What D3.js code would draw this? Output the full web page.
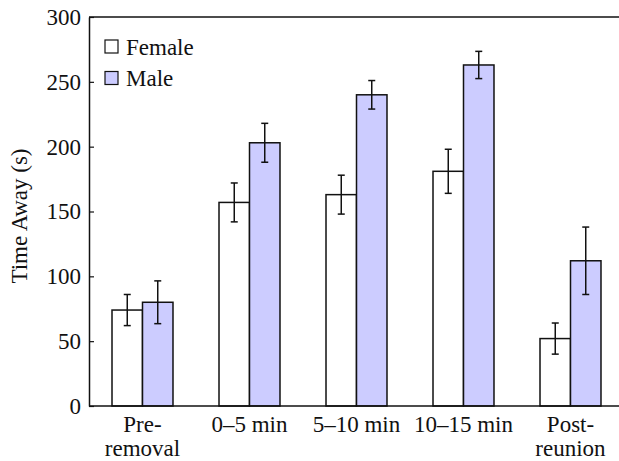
<!DOCTYPE html>
<html>
<head>
<meta charset="utf-8">
<script src="https://cdn.jsdelivr.net/npm/d3@7"></script>
<style>
  body { margin: 0; background: #fff; }
  text { font-family: "Liberation Serif", "Times New Roman", serif; fill: #111; }
</style>
</head>
<body>
<div id="chart"></div>
<script>
// chart data
const categories = ["Pre-\nremoval", "0–5 min", "5–10 min", "10–15 min", "Post-\nreunion"];
const series = ["Female", "Male"];
const femaleMean = [74, 157, 163, 181, 52];
const femaleErr = [12, 15, 15, 17, 12];
const maleMean = [80, 203, 240, 263, 112];
const maleErr = [16.5, 15, 11, 10.5, 26];
const yTicks = [0, 50, 100, 150, 200, 250, 300];

const width = 619;
const height = 461;
const plotLeft = 89;
const plotTop = 17;
const plotBottom = 406;
const fontSize = 23;
const colors = { Female: "#ffffff", Male: "#ccccff" };

const svg = d3.select("#chart").append("svg")
    .attr("width", width)
    .attr("height", height);

// scales
const xScale = d3.scaleBand()
    .domain(categories)
    .range([plotLeft, plotLeft + 5 * 107])
    .paddingInner(0.43)
    .paddingOuter(0.215);

const xInner = d3.scaleBand()
    .domain(series)
    .range([0, xScale.bandwidth()]);

const yScale = d3.scaleLinear()
    .domain([0, 300])
    .range([plotBottom, plotTop]);

// build rows for bars
let rows = [];
categories.forEach((c, i) => {
    rows.push({ cat: c, s: "Female", v: femaleMean[i], e: femaleErr[i] });
    rows.push({ cat: c, s: "Male", v: maleMean[i], e: maleErr[i] });
});

// bars
svg.append("g").selectAll("rect")
    .data(rows)
    .enter()
    .append("rect")
    .attr("x", d => xScale(d.cat) + xInner(d.s))
    .attr("y", d => yScale(d.v))
    .attr("width", xInner.bandwidth())
    .attr("height", d => yScale(0) - yScale(d.v))
    .attr("fill", d => colors[d.s])
    .attr("stroke", "#111")
    .attr("stroke-width", 1.5);

// error bars
const errG = svg.append("g").attr("stroke", "#111").attr("stroke-width", 1.5);
rows.forEach(d => {
    const cx = xScale(d.cat) + xInner(d.s) + xInner.bandwidth() / 2;
    errG.append("line")
        .attr("x1", cx).attr("x2", cx)
        .attr("y1", yScale(d.v + d.e)).attr("y2", yScale(d.v - d.e));
    [d.v + d.e, d.v - d.e].forEach(v => {
        errG.append("line")
            .attr("x1", cx - 3.5).attr("x2", cx + 3.5)
            .attr("y1", yScale(v)).attr("y2", yScale(v));
    });
});

// frame: top line, bottom axis
const frame = svg.append("g").attr("stroke", "#111").attr("stroke-width", 1.5);
frame.append("line").attr("x1", plotLeft).attr("x2", width).attr("y1", plotTop).attr("y2", plotTop);
frame.append("line").attr("x1", plotLeft).attr("x2", width).attr("y1", plotBottom).attr("y2", plotBottom);

// y axis
const yAxis = d3.axisLeft(yScale)
    .tickValues(yTicks)
    .tickSizeInner(-5)
    .tickSizeOuter(0)
    .tickPadding(8);

const yG = svg.append("g")
    .attr("transform", "translate(" + plotLeft + ",0)")
    .call(yAxis);
yG.select(".domain").attr("stroke", "#111").attr("stroke-width", 1.5);
yG.selectAll(".tick line").attr("stroke", "#111").attr("stroke-width", 1.2);
yG.selectAll("text")
    .attr("font-size", fontSize)
    .attr("fill", "#111");

// y axis label
svg.append("text")
    .attr("transform", "translate(27,216) rotate(-90)")
    .attr("text-anchor", "middle")
    .attr("font-size", fontSize)
    .text("Time Away (s)");

// category labels
categories.forEach(c => {
    const lines = c.split("\n");
    const t = svg.append("text")
        .attr("x", xScale(c) + xScale.bandwidth() / 2)
        .attr("y", 432)
        .attr("text-anchor", "middle")
        .attr("font-size", fontSize);
    lines.forEach((l, j) => {
        t.append("tspan")
            .attr("x", xScale(c) + xScale.bandwidth() / 2)
            .attr("dy", j === 0 ? 0 : 23.5)
            .text(l);
    });
});

// legend
const legend = svg.append("g").attr("transform", "translate(105,40)");
series.forEach((s, i) => {
    legend.append("rect")
        .attr("x", 0)
        .attr("y", i * 31.5)
        .attr("width", 13)
        .attr("height", 13)
        .attr("fill", colors[s])
        .attr("stroke", "#111")
        .attr("stroke-width", 1.2);
    legend.append("text")
        .attr("x", 21)
        .attr("y", i * 31 + 15)
        .attr("font-size", fontSize)
        .text(s);
});
</script>
</body>
</html>
